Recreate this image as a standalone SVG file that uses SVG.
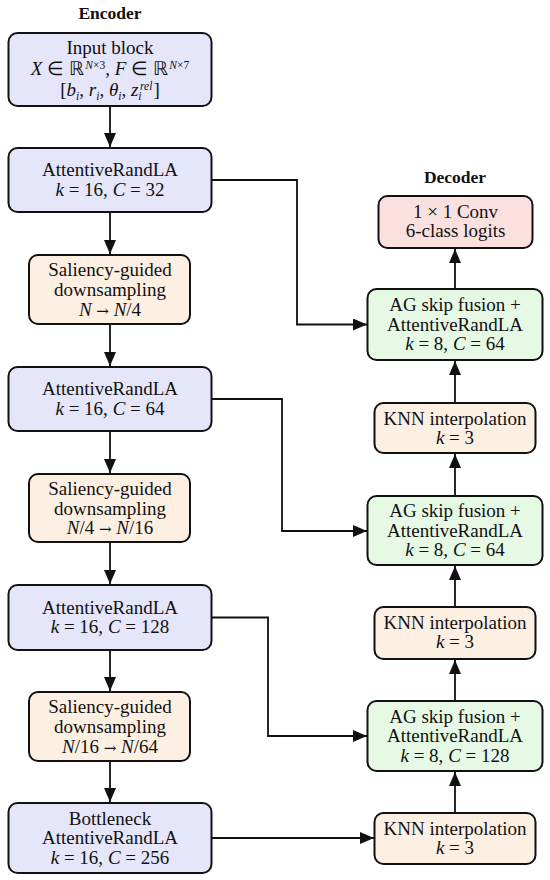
<svg xmlns="http://www.w3.org/2000/svg" width="550" height="880" viewBox="0 0 550 880">
<defs>
<style>
.t{font-family:"Liberation Serif","Times New Roman",serif;font-size:19px;text-anchor:middle;fill:#111}
.h{font-family:"Liberation Serif","Times New Roman",serif;font-size:17.5px;font-weight:bold;text-anchor:middle;fill:#111}
.i{font-style:italic}
.ar{font-family:"DejaVu Serif",serif;font-size:15px}
.sup,.sub{font-size:11.5px}
.box{stroke:#111;stroke-width:2}
.enc{fill:#e6e6fb}
.ds{fill:#fdf0e3}
.ag{fill:#e5f9e5}
.cv{fill:#fce0e0}
.e{fill:none;stroke:#111;stroke-width:1.8;marker-end:url(#ah)}
</style>
<marker id="ah" markerUnits="userSpaceOnUse" markerWidth="14" markerHeight="12" refX="14" refY="6" orient="auto">
<path d="M0,0 L14,6 L0,12 z" fill="#111"/>
</marker>
</defs>
<rect width="550" height="880" fill="#fff"/>
<text class="h" x="110" y="19">Encoder</text>
<text class="h" x="455" y="183">Decoder</text>

<g id="connectors">
<path class="e" d="M110,107 V147"/>
<path class="e" d="M110,213 V254"/>
<path class="e" d="M110,325 V366"/>
<path class="e" d="M110,432 V473"/>
<path class="e" d="M110,543 V584"/>
<path class="e" d="M110,651 V691"/>
<path class="e" d="M110,762 V802"/>
<path class="e" d="M455,812 V772"/>
<path class="e" d="M455,700 V660"/>
<path class="e" d="M455,606 V566"/>
<path class="e" d="M455,495 V454"/>
<path class="e" d="M455,402 V361"/>
<path class="e" d="M455,288 V249"/>
<path class="e" d="M211,180 H297 V324.5 H367"/>
<path class="e" d="M211,399 H282 V531 H367"/>
<path class="e" d="M211,617.5 H268 V736 H367"/>
<path class="e" d="M211,838 H374"/>
</g>

<g id="input">
<rect class="box enc" x="8.5" y="33" width="203" height="73" rx="9"/>
<text class="t" x="110" y="53.5">Input block</text>
<text class="t" x="110" y="75"><tspan class="i">X</tspan> ∈ ℝ<tspan class="sup" dx="1.5" dy="-6.5"><tspan class="i">N</tspan>×3</tspan><tspan dy="6.5">, </tspan><tspan class="i">F</tspan> ∈ ℝ<tspan class="sup" dx="1.5" dy="-6.5"><tspan class="i">N</tspan>×7</tspan></text>
<text class="t" x="110" y="96">[<tspan class="i">b</tspan><tspan class="sub i" dy="3.5">i</tspan><tspan dy="-3.5">, </tspan><tspan class="i">r</tspan><tspan class="sub i" dy="3.5">i</tspan><tspan dy="-3.5">, </tspan><tspan class="i">θ</tspan><tspan class="sub i" dy="3.5">i</tspan><tspan dy="-3.5">, </tspan><tspan class="i">z</tspan><tspan class="sub i" dy="3.5">i</tspan><tspan class="sup i" dx="-1.5" dy="-9.5">rel</tspan><tspan dx="1" dy="6">]</tspan></text>
</g>

<g id="enc1">
<rect class="box enc" x="8.5" y="148" width="203" height="64" rx="9"/>
<text class="t" x="110" y="176">AttentiveRandLA</text>
<text class="t" x="110" y="195.5"><tspan class="i">k</tspan> = 16, <tspan class="i">C</tspan> = 32</text>
</g>

<g id="ds1">
<rect class="box ds" x="29" y="255" width="161" height="69" rx="9"/>
<text class="t" x="110" y="276">Saliency-guided</text>
<text class="t" x="110" y="296">downsampling</text>
<text class="t" x="110" y="315.5"><tspan class="i">N</tspan> <tspan class="ar">→</tspan> <tspan class="i">N</tspan>/4</text>
</g>

<g id="enc2">
<rect class="box enc" x="8.5" y="367" width="203" height="64" rx="9"/>
<text class="t" x="110" y="395">AttentiveRandLA</text>
<text class="t" x="110" y="414.5"><tspan class="i">k</tspan> = 16, <tspan class="i">C</tspan> = 64</text>
</g>

<g id="ds2">
<rect class="box ds" x="29" y="474" width="161" height="68" rx="9"/>
<text class="t" x="110" y="494.5">Saliency-guided</text>
<text class="t" x="110" y="514.5">downsampling</text>
<text class="t" x="110" y="534"><tspan class="i">N</tspan>/4 <tspan class="ar">→</tspan> <tspan class="i">N</tspan>/16</text>
</g>

<g id="enc3">
<rect class="box enc" x="8.5" y="585" width="203" height="65" rx="9"/>
<text class="t" x="110" y="613.5">AttentiveRandLA</text>
<text class="t" x="110" y="633"><tspan class="i">k</tspan> = 16, <tspan class="i">C</tspan> = 128</text>
</g>

<g id="ds3">
<rect class="box ds" x="29" y="692" width="161" height="69" rx="9"/>
<text class="t" x="110" y="713">Saliency-guided</text>
<text class="t" x="110" y="733">downsampling</text>
<text class="t" x="110" y="752.5"><tspan class="i">N</tspan>/16 <tspan class="ar">→</tspan> <tspan class="i">N</tspan>/64</text>
</g>

<g id="bottleneck">
<rect class="box enc" x="8.5" y="803" width="203" height="70" rx="9"/>
<text class="t" x="110" y="824.5">Bottleneck</text>
<text class="t" x="110" y="844">AttentiveRandLA</text>
<text class="t" x="110" y="863.5"><tspan class="i">k</tspan> = 16, <tspan class="i">C</tspan> = 256</text>
</g>

<g id="conv">
<rect class="box cv" x="378.5" y="196" width="154" height="52" rx="9"/>
<text class="t" x="455.5" y="217.5">1 × 1 Conv</text>
<text class="t" x="455.5" y="236.5">6-class logits</text>
</g>

<g id="ag1">
<rect class="box ag" x="367.5" y="289" width="175" height="71" rx="9"/>
<text class="t" x="455" y="311">AG skip fusion +</text>
<text class="t" x="455" y="330.5">AttentiveRandLA</text>
<text class="t" x="455" y="350"><tspan class="i">k</tspan> = 8, <tspan class="i">C</tspan> = 64</text>
</g>

<g id="knn1">
<rect class="box ds" x="374.5" y="403" width="161" height="50" rx="9"/>
<text class="t" x="455" y="424.5">KNN interpolation</text>
<text class="t" x="455" y="443.5"><tspan class="i">k</tspan> = 3</text>
</g>

<g id="ag2">
<rect class="box ag" x="367.5" y="496" width="175" height="69" rx="9"/>
<text class="t" x="455" y="517">AG skip fusion +</text>
<text class="t" x="455" y="536.5">AttentiveRandLA</text>
<text class="t" x="455" y="556"><tspan class="i">k</tspan> = 8, <tspan class="i">C</tspan> = 64</text>
</g>

<g id="knn2">
<rect class="box ds" x="374.5" y="607" width="161" height="52" rx="9"/>
<text class="t" x="455" y="629">KNN interpolation</text>
<text class="t" x="455" y="648"><tspan class="i">k</tspan> = 3</text>
</g>

<g id="ag3">
<rect class="box ag" x="367.5" y="701" width="175" height="70" rx="9"/>
<text class="t" x="455" y="722.5">AG skip fusion +</text>
<text class="t" x="455" y="742">AttentiveRandLA</text>
<text class="t" x="455" y="761.5"><tspan class="i">k</tspan> = 8, <tspan class="i">C</tspan> = 128</text>
</g>

<g id="knn3">
<rect class="box ds" x="374.5" y="813" width="161" height="51" rx="9"/>
<text class="t" x="455" y="834.5">KNN interpolation</text>
<text class="t" x="455" y="853.5"><tspan class="i">k</tspan> = 3</text>
</g>
</svg>
